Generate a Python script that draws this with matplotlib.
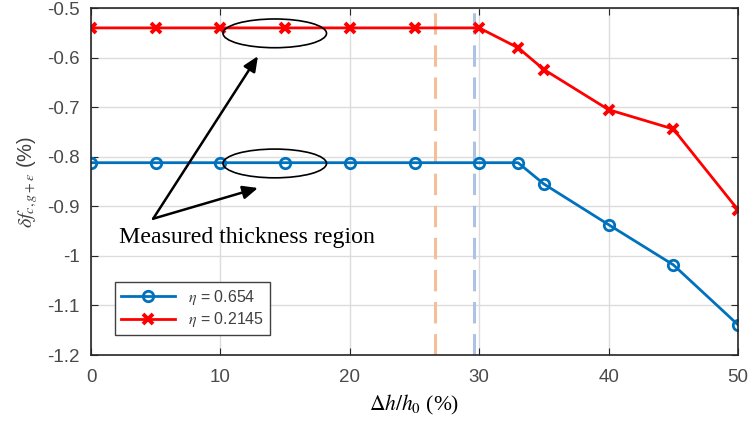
import matplotlib
matplotlib.use("Agg")
from matplotlib import pyplot as plt
from matplotlib.patches import Ellipse

# Data
dh = [0, 5, 10, 15, 20, 25, 30, 33, 35, 40, 45, 50]
eta_0654 = [-0.812, -0.812, -0.812, -0.812, -0.812, -0.812, -0.812, -0.812, -0.855, -0.937, -1.018, -1.139]
eta_02145 = [-0.540, -0.540, -0.540, -0.540, -0.540, -0.540, -0.540, -0.580, -0.624, -0.705, -0.744, -0.907]
labels = [r"$\eta$ = 0.654", r"$\eta$ = 0.2145"]
vlines = [26.6, 29.6]
note = "Measured thickness region"

plt.rcParams['font.family'] = ['Liberation Sans', 'DejaVu Sans']
plt.rcParams['mathtext.fontset'] = 'stix'

fig = plt.figure(figsize=(7.48, 4.25), dpi=100)
ax = fig.add_axes([0.1217, 0.1647, 0.8649, 0.8163])

ax.plot(dh, eta_0654, color='#0072BD', lw=2, marker='o', ms=7.5, mfc='none', mew=2, label=labels[0])
ax.plot(dh, eta_02145, color='#FF0000', lw=2, marker='x', ms=6.5, mew=2.8, label=labels[1])

ax.axvline(vlines[0], color='#F5BE98', lw=2.2, ls=(0, (7, 3.5)), zorder=1)
ax.axvline(vlines[1], color='#AFC2E4', lw=2.2, ls=(0, (7, 3.5)), zorder=1)

# annotation: ellipses, arrows, text
for yc in (-0.551, -0.8135):
    ax.add_patch(Ellipse((14.2, yc), 8.0, 0.058, fill=False, ec='black', lw=1.2, zorder=5))
for xy in ((12.9, -0.597), (12.9, -0.863)):
    ax.annotate('', xy=xy, xytext=(4.8, -0.925),
                arrowprops=dict(arrowstyle='-|>,head_length=0.9,head_width=0.4', color='black', lw=1.8,
                                shrinkA=0, shrinkB=0))
ax.text(2.2, -0.963, note, family='Liberation Serif', fontsize=17.2, va='center', ha='left')

ax.set_xlim(0, 50)
ax.set_ylim(-1.2, -0.5)
ax.set_xticks(range(0, 51, 10))
ax.set_yticks([-1.2, -1.1, -1.0, -0.9, -0.8, -0.7, -0.6, -0.5])
ax.set_yticklabels(['-1.2', '-1.1', '-1', '-0.9', '-0.8', '-0.7', '-0.6', '-0.5'])
ax.grid(True, color='#dcdcdc', lw=1)
ax.set_axisbelow(True)
ax.tick_params(direction='in', top=True, right=True, labelsize=13.5, colors='#262626',
               labelcolor='#4a4a4a', length=5)
ax.tick_params(axis='x', pad=10)
ax.tick_params(axis='y', pad=8)
for s in ax.spines.values():
    s.set_color('#262626')
    s.set_linewidth(1.2)

ax.set_xlabel(r"$\Delta h/h_0$ (%)", family='Liberation Serif', fontsize=15.5, labelpad=5)
ax.set_ylabel(r"$\delta f_{c,g+\varepsilon}$ (%)", fontsize=14.5, color='#404040', labelpad=5)

leg = ax.legend(loc='lower left', bbox_to_anchor=(0.025, 0.035), fontsize=11.5, fancybox=False,
                edgecolor='#404040', framealpha=1, handlelength=3.4, borderpad=0.35, labelspacing=0.2)
for t in leg.get_texts():
    t.set_color('#404040')

fig.savefig('out.png', dpi=100)
